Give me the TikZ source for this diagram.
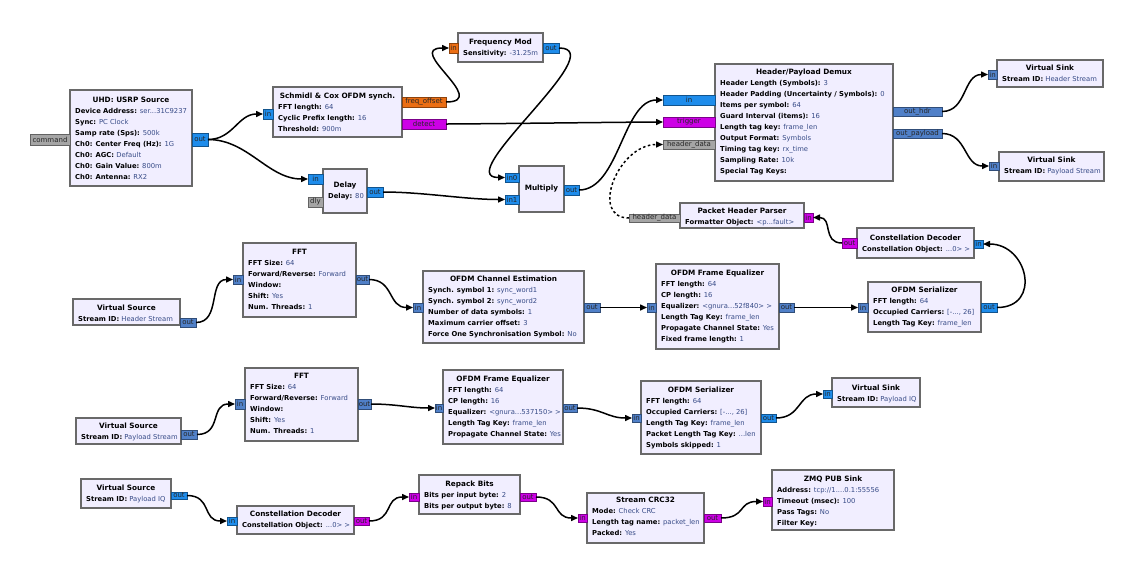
\documentclass[tikz,border=0pt]{standalone}
\usepackage{fontspec}
\setmainfont{DejaVu Sans}
\usetikzlibrary{arrows.meta,calc}
\definecolor{bfill}{RGB}{241,238,255}
\definecolor{bdraw}{RGB}{105,105,105}
\definecolor{valc}{RGB}{55,75,135}
\definecolor{cplx}{RGB}{30,140,235}
\definecolor{vecc}{RGB}{80,128,200}
\definecolor{fltc}{RGB}{235,110,20}
\definecolor{bytc}{RGB}{205,0,230}
\definecolor{msgc}{RGB}{165,165,165}
\newcommand\ddd{...}
\newcommand\kv[2]{\textbf{#1} \textcolor{valc}{#2}}
\tikzset{
  blk/.style={draw=bdraw, fill=bfill, line width=1.4pt, inner sep=0pt, outer sep=0pt, anchor=north west},
  ttl/.style={font=\fontsize{7.3}{8}\selectfont\bfseries, anchor=base, inner sep=0pt},
  prm/.style={font=\fontsize{6.8}{8}\selectfont, anchor=base west, inner sep=0pt},
  port/.style={line width=0.6pt, inner sep=0pt, outer sep=0pt, font=\fontsize{7}{8}\selectfont, text=black!85, anchor=north west},
  pc/.style={port, fill=cplx, draw=cplx!60!black},
  pv/.style={port, fill=vecc, draw=vecc!60!black},
  pf/.style={port, fill=fltc, draw=fltc!60!black},
  pb/.style={port, fill=bytc, draw=bytc!60!black},
  pm/.style={port, fill=msgc, draw=msgc!60!black},
  conn/.style={line width=1.5pt, -{Triangle[length=7pt,width=6pt]}},
  msgconn/.style={conn, dash pattern=on 2.5pt off 2.5pt}
}
% name x1 y1 x2 y2 titleoffset title params
\newcommand\blk[8]{%
  \node[blk, minimum width={(#4)-(#2)}, minimum height={(#5)-(#3)}] (#1) at (#2,#3) {};
  \node[ttl] (#1-t) at ({(#2+#4)/2},{#3+#6+2.6}) {#7};
  \foreach \l [count=\i] in {#8} {\node[prm] (#1-p\i) at ({#2+5},{#3+#6+11*\i+2.4}) {\l};}
}
\newcommand\blko[7]{%
  \node[blk, minimum width={(#4)-(#2)}, minimum height={(#5)-(#3)}] (#1) at (#2,#3) {};
  \node[ttl] (#1-t) at ({(#2+#4)/2},{#3+#6+2.6}) {#7};
}
% name x1 y1 x2 y2 style label
\newcommand\prt[7]{%
  \node[#6, minimum width={(#4)-(#2)}, minimum height={(#5)-(#3)}] (#1) at (#2,#3) {#7};
}
\begin{document}
\begin{tikzpicture}[x=1pt,y=-1pt]
\useasboundingbox[fill=white] (0,0) rectangle (1138,563);

% ---------- blocks ----------
\blk{usrp}{70}{90}{192}{186}{10}{UHD: USRP Source}{%
  \kv{Device Address:}{ser\ddd31C9237},
  \kv{Sync:}{PC Clock},
  \kv{Samp rate (Sps):}{500k},
  \kv{Ch0: Center Freq (Hz):}{1G},
  \kv{Ch0: AGC:}{Default},
  \kv{Ch0: Gain Value:}{800m},
  \kv{Ch0: Antenna:}{RX2}}
\blk{sc}{273}{87}{402}{137}{9}{Schmidl \& Cox OFDM synch.}{%
  \kv{FFT length:}{64},
  \kv{Cyclic Prefix length:}{16},
  \kv{Threshold:}{900m}}
\blk{fm}{458}{33}{543}{62}{9}{Frequency Mod}{\kv{Sensitivity:}{-31.25m}}
\blk{dl}{323}{169}{367}{213}{16}{Delay}{\kv{Delay:}{80}}
\blko{mul}{519}{166}{564}{212}{22}{Multiply}
\blk{dm}{715}{64}{893}{181}{8}{Header/Payload Demux}{%
  \kv{Header Length (Symbols):}{3},
  \kv{Header Padding (Uncertainty / Symbols):}{0},
  \kv{Items per symbol:}{64},
  \kv{Guard Interval (items):}{16},
  \kv{Length tag key:}{frame\_len},
  \kv{Output Format:}{Symbols},
  \kv{Timing tag key:}{rx\_time},
  \kv{Sampling Rate:}{10k},
  \kv{Special Tag Keys:}{}}
\blk{vs1}{997}{60}{1103}{87}{8}{Virtual Sink}{\kv{Stream ID:}{Header Stream}}
\blk{vs2}{999}{152}{1104}{181}{8}{Virtual Sink}{\kv{Stream ID:}{Payload Stream}}
\blk{php}{680}{203}{804}{228}{8}{Packet Header Parser}{\kv{Formatter Object:}{<p\ddd fault>}}
\blk{cd1}{857}{228}{974}{258}{10}{Constellation Decoder}{\kv{Constellation Object:}{\ddd0> >}}

\blk{vsrc1}{73}{299}{180}{325}{9}{Virtual Source}{\kv{Stream ID:}{Header Stream}}
\blk{fft1}{243}{243}{356}{317}{9}{FFT}{%
  \kv{FFT Size:}{64},
  \kv{Forward/Reverse:}{Forward},
  \kv{Window:}{},
  \kv{Shift:}{Yes},
  \kv{Num. Threads:}{1}}
\blk{ce}{423}{271}{584}{343}{8}{OFDM Channel Estimation}{%
  \kv{Synch. symbol 1:}{sync\_word1},
  \kv{Synch. symbol 2:}{sync\_word2},
  \kv{Number of data symbols:}{1},
  \kv{Maximum carrier offset:}{3},
  \kv{Force One Synchronisation Symbol:}{No}}
\blk{eq2}{656}{264}{779}{349}{9}{OFDM Frame Equalizer}{%
  \kv{FFT length:}{64},
  \kv{CP length:}{16},
  \kv{Equalizer:}{<gnura\ddd52f840> >},
  \kv{Length Tag Key:}{frame\_len},
  \kv{Propagate Channel State:}{Yes},
  \kv{Fixed frame length:}{1}}
\blk{ser2}{868}{282}{981}{332}{8}{OFDM Serializer}{%
  \kv{FFT length:}{64},
  \kv{Occupied Carriers:}{[-\ddd, 26]},
  \kv{Length Tag Key:}{frame\_len}}

\blk{vsrc2}{76}{418}{181}{444}{8}{Virtual Source}{\kv{Stream ID:}{Payload Stream}}
\blk{fft3}{245}{368}{358}{441}{8}{FFT}{%
  \kv{FFT Size:}{64},
  \kv{Forward/Reverse:}{Forward},
  \kv{Window:}{},
  \kv{Shift:}{Yes},
  \kv{Num. Threads:}{1}}
\blk{eq3}{443}{370}{563}{444}{9}{OFDM Frame Equalizer}{%
  \kv{FFT length:}{64},
  \kv{CP length:}{16},
  \kv{Equalizer:}{<gnura\ddd537150> >},
  \kv{Length Tag Key:}{frame\_len},
  \kv{Propagate Channel State:}{Yes}}
\blk{ser3}{641}{381}{761}{454}{9}{OFDM Serializer}{%
  \kv{FFT length:}{64},
  \kv{Occupied Carriers:}{[-\ddd, 26]},
  \kv{Length Tag Key:}{frame\_len},
  \kv{Packet Length Tag Key:}{\ddd len},
  \kv{Symbols skipped:}{1}}
\blk{vsk3}{832}{378}{920}{407}{10}{Virtual Sink}{\kv{Stream ID:}{Payload IQ}}

\blk{vsrc3}{81}{479}{171}{508}{9}{Virtual Source}{\kv{Stream ID:}{Payload IQ}}
\blk{cd2}{237}{506}{354}{534}{8}{Constellation Decoder}{\kv{Constellation Object:}{\ddd0> >}}
\blk{rp}{419}{475}{520}{514}{9}{Repack Bits}{%
  \kv{Bits per input byte:}{2},
  \kv{Bits per output byte:}{8}}
\blk{crc}{587}{493}{704}{543}{7}{Stream CRC32}{%
  \kv{Mode:}{Check CRC},
  \kv{Length tag name:}{packet\_len},
  \kv{Packed:}{Yes}}
\blk{zmq}{772}{470}{894}{530}{9}{ZMQ PUB Sink}{%
  \kv{Address:}{tcp://1\ddd.0.1:55556},
  \kv{Timeout (msec):}{100},
  \kv{Pass Tags:}{No},
  \kv{Filter Key:}{}}

% ---------- ports ----------
\prt{usrp-cmd}{30}{134}{70}{145}{pm}{command}
\prt{usrp-out}{192}{133}{208}{146}{pc}{out}
\prt{sc-in}{263}{109}{273}{119}{pc}{in}
\prt{sc-fo}{402}{97}{446}{107}{pf}{freq\_offset}
\prt{sc-det}{402}{119}{446}{129}{pb}{detect}
\prt{fm-in}{449}{43}{458}{53}{pf}{in}
\prt{fm-out}{543}{43}{559}{53}{pc}{out}
\prt{dl-in}{308}{174}{323}{184}{pc}{in}
\prt{dl-dly}{308}{197}{323}{207}{pm}{dly}
\prt{dl-out}{367}{187}{383}{197}{pc}{out}
\prt{mul-in0}{505}{173}{519}{182}{pc}{in0}
\prt{mul-in1}{505}{195}{519}{204}{pc}{in1}
\prt{mul-out}{564}{185}{579}{195}{pc}{out}
\prt{dm-in}{663}{95}{715}{105}{pc}{in}
\prt{dm-trig}{663}{117}{715}{127}{pb}{trigger}
\prt{dm-hd}{663}{140}{715}{149}{pm}{header\_data}
\prt{dm-hdr}{893}{107}{942}{116}{pv}{out\_hdr}
\prt{dm-pl}{893}{129}{942}{138}{pv}{out\_payload}
\prt{vs1-in}{988}{70}{997}{79}{pv}{in}
\prt{vs2-in}{989}{162}{999}{170}{pv}{in}
\prt{php-hd}{629}{214}{680}{222}{pm}{header\_data}
\prt{php-in}{804}{213}{813}{222}{pb}{in}
\prt{cd1-out}{842}{238}{857}{248}{pb}{out}
\prt{cd1-in}{974}{240}{983}{248}{pc}{in}
\prt{vsrc1-out}{180}{318}{196}{327}{pv}{out}
\prt{fft1-in}{233}{275}{243}{284}{pv}{in}
\prt{fft1-out}{356}{275}{369}{284}{pv}{out}
\prt{ce-in}{413}{303}{423}{312}{pv}{in}
\prt{ce-out}{584}{303}{600}{312}{pv}{out}
\prt{eq2-in}{647}{303}{656}{312}{pv}{in}
\prt{eq2-out}{779}{303}{794}{312}{pv}{out}
\prt{ser2-in}{858}{303}{868}{312}{pv}{in}
\prt{ser2-out}{981}{303}{997}{312}{pc}{out}
\prt{vsrc2-out}{181}{430}{197}{439}{pv}{out}
\prt{fft3-in}{235}{399}{245}{409}{pv}{in}
\prt{fft3-out}{358}{399}{371}{409}{pv}{out}
\prt{eq3-in}{435}{404}{443}{412}{pv}{in}
\prt{eq3-out}{563}{404}{577}{412}{pv}{out}
\prt{ser3-in}{632}{414}{641}{422}{pv}{in}
\prt{ser3-out}{761}{414}{776}{422}{pc}{out}
\prt{vsk3-in}{823}{390}{832}{398}{pc}{in}
\prt{vsrc3-out}{171}{492}{187}{499}{pc}{out}
\prt{cd2-in}{227}{517}{237}{525}{pc}{in}
\prt{cd2-out}{354}{517}{369}{525}{pb}{out}
\prt{rp-in}{409}{493}{419}{501}{pb}{in}
\prt{rp-out}{520}{493}{536}{501}{pb}{out}
\prt{crc-in}{578}{514}{587}{522}{pb}{in}
\prt{crc-out}{704}{514}{721}{522}{pb}{out}
\prt{zmq-in}{763}{497}{772}{506}{pb}{in}

% ---------- connections ----------
\draw[conn] (usrp-out.east) .. controls +(25,0) and +(-25,0) .. (sc-in.west);
\draw[conn] (usrp-out.east) .. controls +(40,0) and +(-40,0) .. (dl-in.west);
\draw[conn] (sc-fo.east) .. controls +(45,0) and +(-45,0) .. (fm-in.west);
\draw[conn] (sc-det.east) .. controls +(25,0) and +(-25,0) .. (dm-trig.west);
\draw[conn] (fm-out.east) .. controls +(55,0) and +(-55,0) .. (mul-in0.west);
\draw[conn] (dl-out.east) .. controls +(40,0) and +(-40,0) .. (mul-in1.west);
\draw[conn] (mul-out.east) .. controls +(40,0) and +(-40,0) .. (dm-in.west);
\draw[msgconn] (php-hd.west) .. controls +(-40,0) and +(-45,0) .. (dm-hd.west);
\draw[conn] (dm-hdr.east) .. controls +(25,0) and +(-25,0) .. (vs1-in.west);
\draw[conn] (dm-pl.east) .. controls +(25,0) and +(-25,0) .. (vs2-in.west);
\draw[conn] (cd1-out.west) .. controls +(-20,0) and +(20,0) .. (php-in.east);
\draw[conn] (ser2-out.east) .. controls +(45,0) and +(45,0) .. (cd1-in.east);
\draw[conn] (vsrc1-out.east) .. controls +(25,0) and +(-25,0) .. (fft1-in.west);
\draw[conn] (fft1-out.east) .. controls +(25,0) and +(-25,0) .. (ce-in.west);
\draw[conn] (ce-out.east) -- (eq2-in.west);
\draw[conn] (eq2-out.east) -- (ser2-in.west);
\draw[conn] (vsrc2-out.east) .. controls +(25,0) and +(-25,0) .. (fft3-in.west);
\draw[conn] (fft3-out.east) .. controls +(25,0) and +(-25,0) .. (eq3-in.west);
\draw[conn] (eq3-out.east) .. controls +(25,0) and +(-25,0) .. (ser3-in.west);
\draw[conn] (ser3-out.east) .. controls +(25,0) and +(-25,0) .. (vsk3-in.west);
\draw[conn] (vsrc3-out.east) .. controls +(25,0) and +(-25,0) .. (cd2-in.west);
\draw[conn] (cd2-out.east) .. controls +(25,0) and +(-25,0) .. (rp-in.west);
\draw[conn] (rp-out.east) .. controls +(25,0) and +(-25,0) .. (crc-in.west);
\draw[conn] (crc-out.east) .. controls +(25,0) and +(-25,0) .. (zmq-in.west);
\end{tikzpicture}
\end{document}
